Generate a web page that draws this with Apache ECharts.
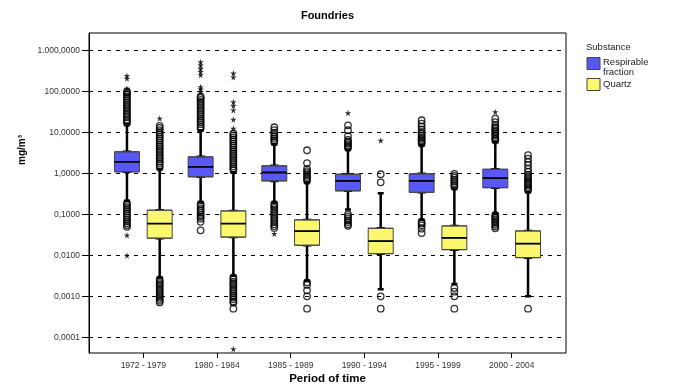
<!DOCTYPE html>
<html><head><meta charset="utf-8">
<script src="https://cdn.jsdelivr.net/npm/echarts@6/dist/echarts.min.js"></script>
<style>html,body{margin:0;padding:0;background:#fff}#c{width:678px;height:385px}</style>
</head><body><div id="c"></div>
<script>
const categories = ['1972 - 1979','1980 - 1984','1985 - 1989','1990 - 1994','1995 - 1999','2000 - 2004'];
const seriesNames = ['Respirable fraction', 'Quartz'];
// [lower whisker, Q1, median, Q3, upper whisker], mg/m³
const respirableBoxes = [
  [0.215, 1.1, 1.93, 3.39, 16],
  [0.195, 0.83, 1.46, 2.55, 11.2],
  [0.195, 0.66, 1.06, 1.54, 5.2],
  [0.132, 0.377, 0.66, 0.96, 3.79],
  [0.074, 0.347, 0.66, 0.98, 4.9],
  [0.105, 0.45, 0.77, 1.27, 5.9]
];
const quartzBoxes = [
  [0.0029, 0.0263, 0.060, 0.127, 1.28],
  [0.0032, 0.028, 0.060, 0.122, 1.06],
  [0.0024, 0.0177, 0.039, 0.0736, 0.60],
  [0.00149, 0.011, 0.0222, 0.046, 0.33],
  [0.0020, 0.0138, 0.0268, 0.0525, 0.43],
  [0.00101, 0.0088, 0.0193, 0.0396, 0.356]
];
// outliers (circles), per period
const respirableOutliers = [
  [17,19,21,24,27,30,34,38,42,47,53,60,67,75,84,94,101, 0.19,0.17,0.15,0.135,0.12,0.107,0.095,0.085,0.076,0.068,0.061,0.055,0.05],
  [12.5,14,16,18,20,22,25,28,32,36,40,45,50,56,63,70,76, 0.18,0.16,0.14,0.125,0.11,0.098,0.088,0.079,0.066,0.041],
  [5.8,6.4,7.1,7.9,8.8,10,11.5,13.5, 0.18,0.16,0.145,0.13,0.115,0.103,0.092,0.082,0.073,0.065,0.058,0.052,0.047],
  [4.2,4.6,5.0,5.5,6.0,6.6,8.2,11.4,15, 0.1,0.09,0.08,0.072,0.065,0.058,0.053],
  [5.3,5.8,6.4,7.0,7.7,8.5,9.4,10.4,12,14,16.5,20, 0.066,0.06,0.054,0.045,0.035],
  [6.4,7.0,7.7,8.5,9.3,10.2,11.2,12.3,13.5,15,18,22, 0.097,0.089,0.082,0.075,0.068,0.062,0.056,0.051,0.046]
];
// extreme values (stars), per period
const respirableExtremes = [
  [120,210,245, 0.031,0.01],
  [100,115,130,255,305,365,440,530],
  [0.034],
  [30],
  [],
  [32]
];
const quartzOutliers = [
  [1.4,1.6,1.8,2.0,2.25,2.5,2.8,3.2,3.6,4.0,4.5,5.0,5.7,6.4,7.2,8.0,9.0,10,11.5,13,14.6, 0.0026,0.0023,0.0021,0.0019,0.0017,0.0015,0.00135,0.0012,0.00108,0.00097,0.00087,0.00078,0.00071],
  [1.2,1.35,1.5,1.7,1.9,2.15,2.4,2.7,3.0,3.4,3.8,4.3,4.8,5.4,6.1,6.8,7.6,8.5,9.5, 0.0029,0.0026,0.0023,0.0021,0.0019,0.0017,0.0015,0.00135,0.0012,0.00107,0.00095,0.00085,0.00075,0.0007,0.0005],
  [0.66,0.74,0.82,0.92,1.03,1.15,1.3,1.8,3.7, 0.0022,0.0019,0.0014,0.001,0.0005],
  [0.61,0.96, 0.001,0.0005],
  [0.47,0.52,0.58,0.64,0.71,0.79,0.88,0.98, 0.0016,0.0013,0.001,0.0005],
  [0.39,0.43,0.47,0.52,0.57,0.63,0.7,0.77,0.85,0.94,1.1,1.3,1.6,1.9,2.3,2.8, 0.0005]
];
const quartzExtremes = [
  [22],
  [12.6,21,35,45,56,225,280, 0.000052],
  [],
  [6.4],
  [],
  []
];
const yTickValues = [0.0001, 0.001, 0.01, 0.1, 1, 10, 100, 1000];
const yTickLabels = ['0,0001','0,0010','0,0100','0,1000','1,0000','10,0000','100,0000','1.000,0000'];

const FONT = '"Liberation Sans", Arial, sans-serif';
const BLUE = '#5858f6', YELLOW = '#fbf870';
const Y_MIN = Math.pow(10, -4.384), Y_MAX = Math.pow(10, 3.432);
const STAR = 'path://M50,0 L61,35 L98,35 L68,57 L79,91 L50,70 L21,91 L32,57 L2,35 L39,35 Z';
const G_LEFT = 106.5, G_RIGHT = 129.5;

function labelOf(v) {
  const i = yTickValues.findIndex(t => Math.abs(Math.log10(t) - Math.log10(v)) < 1e-6);
  return i >= 0 ? yTickLabels[i] : '';
}
const hiddenCat = gi => ({type: 'category', gridIndex: gi, data: categories, show: false, boundaryGap: true});
const circleStyle = {color: 'transparent', borderColor: '#000', borderWidth: 1.3};

const chart = echarts.init(document.getElementById('c'), null, {renderer: 'canvas'});
const option = {
  animation: false,
  grid: [
    {left: 89, right: 112, top: 33, bottom: 32, show: true, borderColor: '#000', borderWidth: 1, backgroundColor: 'transparent'},
    {left: G_LEFT, right: G_RIGHT, top: 33, bottom: 32},
    {left: G_LEFT, right: G_RIGHT, top: 33, bottom: 32}
  ],
  xAxis: [
    {type: 'category', gridIndex: 0, data: categories, show: false},
    {type: 'category', gridIndex: 1, data: categories, position: 'bottom',
      axisLine: {show: false},
      axisTick: {show: true, alignWithLabel: true, inside: false, length: 5, lineStyle: {color: '#000', width: 1}},
      axisLabel: {color: '#333', fontSize: 8.5, fontFamily: FONT, margin: 8, interval: 0},
      splitLine: {show: false}},
    hiddenCat(2), hiddenCat(2), hiddenCat(2),
    {type: 'value', gridIndex: 2, min: -0.5, max: categories.length - 0.5, show: false}
  ],
  yAxis: [
    {type: 'log', gridIndex: 0, min: Y_MIN, max: Y_MAX,
      axisLine: {show: true, lineStyle: {color: '#000', width: 1}},
      axisTick: {show: true, inside: false, length: 7, customValues: yTickValues, lineStyle: {color: '#000'}},
      axisLabel: {show: true, customValues: yTickValues, formatter: labelOf, color: '#333', fontSize: 8.5, fontFamily: FONT, margin: 9},
      splitLine: {show: true, lineStyle: {color: '#000', width: 1, type: [4, 5]}}},
    {type: 'value', gridIndex: 1, show: false},
    {type: 'log', gridIndex: 2, min: Y_MIN, max: Y_MAX, show: false}
  ],
  graphic: [
    {type: 'text', x: 327.5, y: 16, style: {text: 'Foundries', font: 'bold 11px ' + FONT, fill: '#000', align: 'center', verticalAlign: 'middle'}},
    {type: 'text', x: 327.5, y: 379, style: {text: 'Period of time', font: 'bold 11.5px ' + FONT, fill: '#000', align: 'center', verticalAlign: 'middle'}},
    {type: 'text', x: 22, y: 150, rotation: Math.PI / 2, style: {text: 'mg/m³', font: 'bold 10px ' + FONT, fill: '#000', align: 'center', verticalAlign: 'middle'}},
    {type: 'text', x: 586, y: 47, style: {text: 'Substance', font: '9.5px ' + FONT, fill: '#222', verticalAlign: 'middle'}},
    {type: 'rect', shape: {x: 587, y: 57.5, width: 13, height: 12}, style: {fill: BLUE, stroke: '#444', lineWidth: 1}},
    {type: 'text', x: 603, y: 67, style: {text: 'Respirable\nfraction', font: '9.5px ' + FONT, fill: '#222', verticalAlign: 'middle', lineHeight: 10}},
    {type: 'rect', shape: {x: 587, y: 78.5, width: 13, height: 12}, style: {fill: YELLOW, stroke: '#444', lineWidth: 1}},
    {type: 'text', x: 603, y: 84.5, style: {text: 'Quartz', font: '9.5px ' + FONT, fill: '#222', verticalAlign: 'middle'}}
  ],
  series: [
    // whiskers
    {type: 'boxplot', name: seriesNames[0], xAxisIndex: 2, yAxisIndex: 2, boxWidth: [6, 6], data: respirableBoxes,
      itemStyle: {color: 'transparent', borderColor: '#000', borderWidth: 2.5}, silent: true},
    {type: 'boxplot', name: seriesNames[1], xAxisIndex: 2, yAxisIndex: 2, boxWidth: [6, 6], data: quartzBoxes,
      itemStyle: {color: 'transparent', borderColor: '#000', borderWidth: 2.5}, silent: true},
    // boxes
    {type: 'boxplot', name: seriesNames[0], xAxisIndex: 3, yAxisIndex: 2, boxWidth: [25, 25],
      data: respirableBoxes.map(b => [b[1], b[1], b[2], b[3], b[3]]),
      itemStyle: {color: BLUE, borderColor: '#444', borderWidth: 1}, silent: true},
    {type: 'boxplot', name: seriesNames[1], xAxisIndex: 3, yAxisIndex: 2, boxWidth: [25, 25],
      data: quartzBoxes.map(b => [b[1], b[1], b[2], b[3], b[3]]),
      itemStyle: {color: YELLOW, borderColor: '#444', borderWidth: 1}, silent: true},
    // medians
    {type: 'boxplot', xAxisIndex: 4, yAxisIndex: 2, boxWidth: [25, 25],
      data: respirableBoxes.map(b => [b[2], b[2], b[2], b[2], b[2]]),
      itemStyle: {color: 'transparent', borderColor: '#000', borderWidth: 1.8}, silent: true},
    {type: 'boxplot', xAxisIndex: 4, yAxisIndex: 2, boxWidth: [25, 25],
      data: quartzBoxes.map(b => [b[2], b[2], b[2], b[2], b[2]]),
      itemStyle: {color: 'transparent', borderColor: '#000', borderWidth: 1.8}, silent: true},
    // outliers (x filled in after layout)
    {id: 'rOut', type: 'scatter', xAxisIndex: 5, yAxisIndex: 2, symbol: 'circle', symbolSize: 6.5, data: [], itemStyle: circleStyle, silent: true},
    {id: 'qOut', type: 'scatter', xAxisIndex: 5, yAxisIndex: 2, symbol: 'circle', symbolSize: 6.5, data: [], itemStyle: circleStyle, silent: true},
    {id: 'rExt', type: 'scatter', xAxisIndex: 5, yAxisIndex: 2, symbol: STAR, symbolSize: 6.5, data: [], itemStyle: {color: '#000'}, silent: true},
    {id: 'qExt', type: 'scatter', xAxisIndex: 5, yAxisIndex: 2, symbol: STAR, symbolSize: 6.5, data: [], itemStyle: {color: '#000'}, silent: true}
  ]
};
chart.setOption(option);

function boxCentres(seriesIndex) {
  const data = chart.getModel().getSeriesByIndex(seriesIndex).getData();
  return categories.map((_, i) => {
    const l = data.getItemLayout(i);
    const xs = l.ends.map(p => p[0]);
    const px = (Math.min.apply(null, xs) + Math.max.apply(null, xs)) / 2;
    return chart.convertFromPixel({xAxisIndex: 5}, px);
  });
}
function pts(arr, xs) {
  const out = [];
  arr.forEach((vals, i) => vals.forEach(v => out.push([xs[i], v])));
  return out;
}
const rX = boxCentres(2), qX = boxCentres(3);
chart.setOption({series: [
  {id: 'rOut', data: pts(respirableOutliers, rX)},
  {id: 'qOut', data: pts(quartzOutliers, qX)},
  {id: 'rExt', data: pts(respirableExtremes, rX)},
  {id: 'qExt', data: pts(quartzExtremes, qX)}
]});
</script></body></html>
